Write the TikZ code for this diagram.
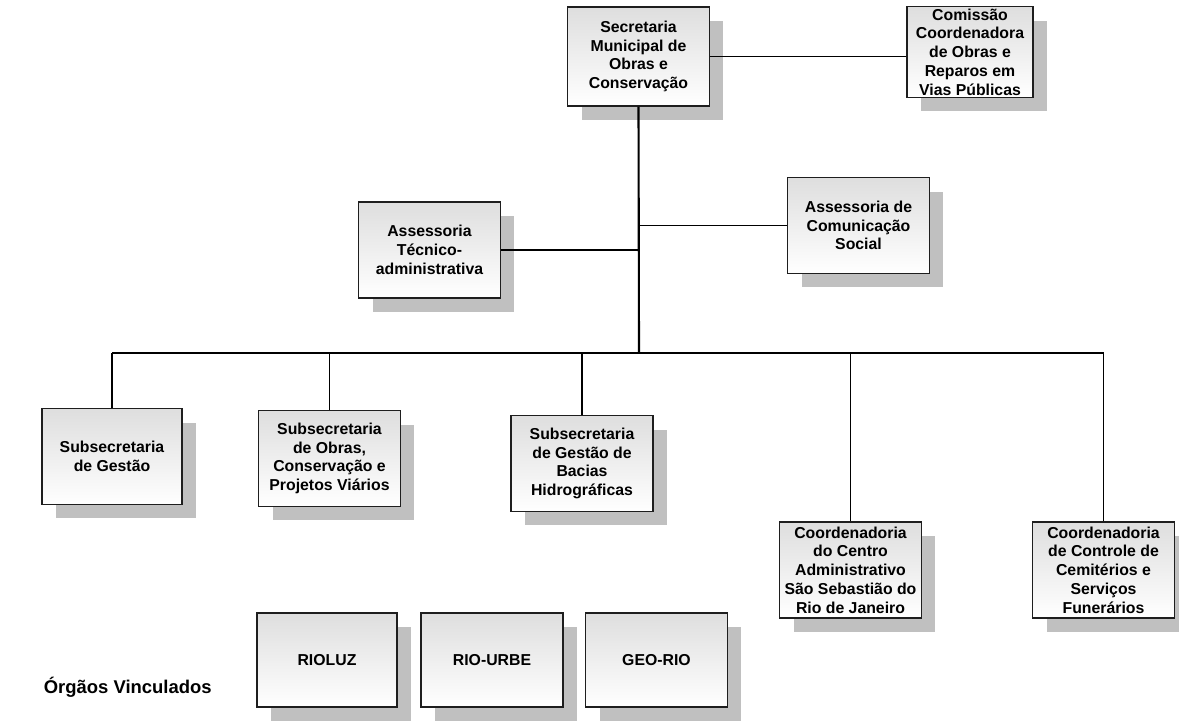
\documentclass[tikz,border=0pt]{standalone}
\usepackage{fontspec}
\setmainfont{Liberation Sans}
\usepackage{tikz}
\usetikzlibrary{shadows}

\definecolor{boxtop}{RGB}{222,222,222}
\definecolor{shadowgray}{RGB}{192,192,192}
\definecolor{boxline}{RGB}{30,30,30}

\tikzset{
  orgbox/.style={draw=boxline, line width=0.6pt, top color=boxtop, bottom color=white,
    minimum width=2.84cm, minimum height=1.92cm, inner sep=1pt, align=center,
    font=\fontsize{9}{10.7}\selectfont\bfseries,
    drop shadow={shadow xshift=0.28cm, shadow yshift=-0.28cm, fill=shadowgray, opacity=1}},
  link/.style={draw=black, line width=0.6pt},
  trunk/.style={draw=black, line width=1.2pt}
}

\begin{document}
\begin{tikzpicture}[x=0.02cm, y=-0.02cm]
\useasboundingbox (0, 0) rectangle (1179, 720);

\node[orgbox, minimum height=1.98cm] (sec) at (638.5, 56.5) {Secretaria\\Municipal de\\Obras e\\Conservação};
\node[orgbox, minimum width=2.52cm, minimum height=1.8cm] (com) at (970, 52) {Comissão\\Coordenadora\\de Obras e\\Reparos em\\Vias Públicas};
\node[orgbox] (atec) at (429.5, 250) {Assessoria\\Técnico-\\administrativa};
\node[orgbox] (acom) at (858.5, 225.5) {Assessoria de\\Comunicação\\Social};

\node[orgbox, minimum width=2.8cm] (sgest) at (112, 456.5) {Subsecretaria\\de Gestão};
\node[orgbox] (sobras) at (329.5, 458.5) {Subsecretaria\\de Obras,\\Conservação e\\Projetos Viários};
\node[orgbox] (sbac) at (582, 463.5) {Subsecretaria\\de Gestão de\\Bacias\\Hidrográficas};
\node[orgbox] (ccen) at (850.5, 570) {Coordenadoria\\do Centro\\Administrativo\\São Sebastião do\\Rio de Janeiro};
\node[orgbox] (cctl) at (1103.5, 570) {Coordenadoria\\de Controle de\\Cemitérios e\\Serviços\\Funerários};

\node[orgbox, minimum width=2.8cm, minimum height=1.88cm] (rioluz) at (327, 660) {RIOLUZ};
\node[orgbox, minimum height=1.88cm] (riourbe) at (492, 660) {RIO-URBE};
\node[orgbox, minimum height=1.88cm] (georio) at (656.5, 660) {GEO-RIO};

\node[anchor=base east, inner sep=0pt, font=\fontsize{10.5}{12}\selectfont\bfseries] (orgaos) at (212, 693) {Órgãos Vinculados};

\coordinate (bus) at (639, 353);

\draw[link] (sec.east) -- (sec.east -| com.west);
\draw[link] (atec.east) -- (atec.east -| sec.south);
\draw[link] (acom.west) -- (acom.west -| sec.south);
\draw[trunk] (sec.south) -- (bus);
\draw[link] (sgest.north |- bus) -- (cctl.north |- bus);
\draw[link] (sgest.north |- bus) -- (sgest.north);
\draw[link] (sobras.north |- bus) -- (sobras.north);
\draw[link] (sbac.north |- bus) -- (sbac.north);
\draw[link] (ccen.north |- bus) -- (ccen.north);
\draw[link] (cctl.north |- bus) -- (cctl.north);
\end{tikzpicture}
\end{document}
